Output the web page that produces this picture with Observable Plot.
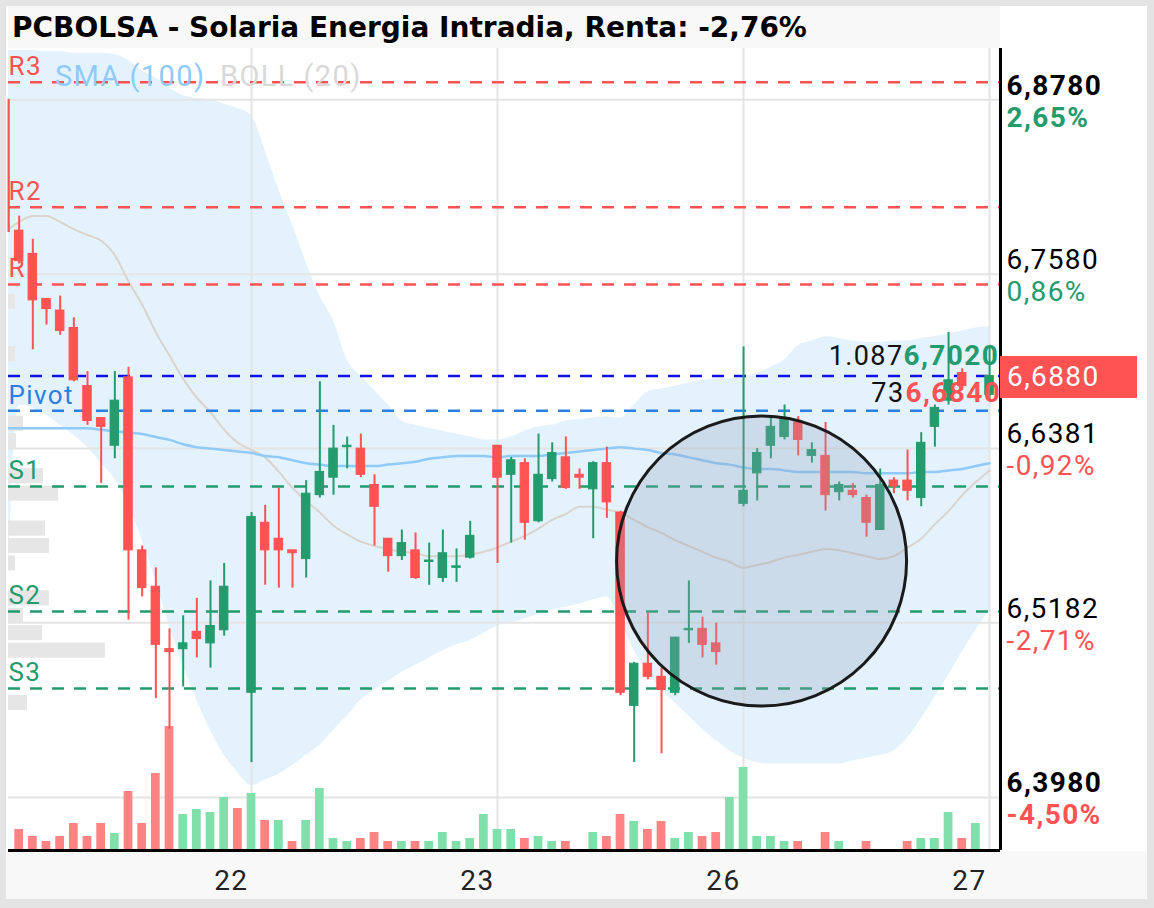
<!DOCTYPE html>
<html><head><meta charset="utf-8">
<script src="https://cdn.jsdelivr.net/npm/d3@7"></script>
<script src="https://cdn.jsdelivr.net/npm/@observablehq/plot@0.6"></script>
<style>
body{margin:0;background:#fff;font-family:Roboto,sans-serif;}
#wrap{position:relative;width:1154px;height:908px;background:#e4e4e4;overflow:hidden;}
#panel{position:absolute;left:6px;top:6px;width:1141px;height:893px;background:#fff;}
#titlebar{position:absolute;left:8px;top:6px;width:992px;height:42px;background:#f8f8f8;}
#bottombar{position:absolute;left:6px;top:851px;width:1141px;height:48px;background:#f8f8f8;}
#title{position:absolute;left:12px;top:11px;font:bold 28px "DejaVu Sans";color:#000;white-space:nowrap;}
.legend{position:absolute;top:59px;font:29px Roboto;letter-spacing:1.4px;white-space:nowrap;}
.layer{position:absolute;left:0;top:0;}
#pricebox{position:absolute;left:1000px;width:137px;height:42px;background:#ff5252;color:#fff;font:28px Roboto;letter-spacing:1.4px;line-height:42px;padding-left:7px;box-sizing:border-box;}
</style></head>
<body>
<div id="wrap">
  <div id="panel"></div>
  <div id="titlebar"></div>
  <div id="bottombar"></div>
  <div id="title">PCBOLSA - Solaria Energia Intradia, Renta: -2,76%</div>
</div>
<script>
// ---------- DATA ----------
// 30-min slots: day 21 = 0..17, 22 = 18..35, 23 = 36..53, 26 = 54..71, 27 = 72
const open = [6.878,6.788,6.772,6.741,6.733,6.721,6.681,6.659,6.640,6.687,6.568,6.543,6.500,6.500,6.512,6.504,6.513,null,
6.470,6.587,6.576,6.568,6.562,6.606,6.618,6.639,6.638,6.613,6.576,6.564,6.568,6.560,6.549,6.556,6.563,null,
6.640,6.620,6.628,6.588,6.617,6.632,6.620,6.610,6.628,6.594,6.461,6.490,6.481,6.470,6.513,6.514,6.504,null,
6.600,6.621,6.640,6.646,6.656,6.633,6.633,6.608,6.609,6.604,6.582,6.616,6.616,6.604,6.653,6.671,6.690,null,6.675];
const high = [6.878,6.798,6.782,6.741,6.743,6.728,6.691,6.659,6.691,6.694,6.571,6.556,6.514,6.523,6.535,6.547,6.559,null,
6.594,6.599,6.611,6.568,6.616,6.684,6.654,6.646,6.648,6.620,6.576,6.582,6.580,6.573,6.582,6.569,6.588,null,
6.640,6.632,6.631,6.648,6.642,6.646,6.624,6.629,6.639,6.595,6.491,6.525,6.487,6.508,6.547,6.522,6.518,null,
6.708,6.638,6.659,6.668,6.660,6.642,6.656,6.615,6.614,6.606,6.624,6.618,6.637,6.649,6.668,6.718,6.693,null,6.709];
const low = [6.781,6.765,6.706,6.723,6.716,6.684,6.654,6.614,6.631,6.520,6.536,6.466,6.445,6.474,6.494,6.487,6.509,null,
6.422,6.544,6.542,6.542,6.549,6.604,6.606,6.624,6.618,6.571,6.553,6.561,6.548,6.544,6.546,6.546,6.562,null,
6.559,6.573,6.575,6.587,6.615,6.610,6.610,6.576,6.590,6.468,6.422,6.479,6.428,6.468,6.504,6.494,6.489,null,
6.598,6.602,6.631,6.644,6.633,6.628,6.595,6.602,6.604,6.577,6.582,6.607,6.602,6.598,6.639,6.668,6.678,null,6.671];
const close = [6.787,6.767,6.740,6.734,6.719,6.685,6.657,6.653,6.671,6.568,6.542,6.503,6.498,6.504,6.507,6.516,6.543,null,
6.591,6.568,6.568,6.566,6.607,6.622,6.638,6.640,6.620,6.598,6.564,6.573,6.549,6.561,6.566,6.557,6.578,null,
6.618,6.630,6.587,6.620,6.635,6.611,6.618,6.628,6.601,6.470,6.490,6.481,6.472,6.508,6.514,6.503,6.498,null,
6.609,6.635,6.653,6.659,6.644,6.637,6.606,6.613,6.606,6.587,6.613,6.612,6.609,6.642,6.666,6.685,6.681,null,6.688];
// volume (thousand shares) and its up/down colour (g/r)
const volume = [0,21,14,9,14,27,14,27,17,59,27,77,124,36,41,38,53,42,
57,30,30,9,30,62,12,9,12,18,9,9,9,9,18,9,12,36,
21,21,12,14,9,9,0,18,14,36,29,21,29,12,18,14,18,53,
83,14,14,9,9,0,18,9,0,9,0,0,9,12,12,38,12,27,0];
const volumeDir = ("rrrrrrrrgrrrrggggr" + "grgrggggrrrgrggggg" + "ggrggrggrrgrrggrrg" + "ggggrgrgrrgrrgggrgg").split("");
// Bollinger (20) bands and middle, SMA (100)
const bollUpper = [6.912,6.912,6.912,6.911,6.911,6.910,6.910,6.910,6.909,6.905,6.898,6.893,6.886,6.881,6.879,6.878,6.875,6.872,
6.867,6.843,6.816,6.792,6.766,6.743,6.726,6.699,6.688,6.678,6.668,6.657,6.654,6.652,6.650,6.648,6.646,6.644,
6.644,6.646,6.650,6.653,6.654,6.657,6.658,6.659,6.660,6.659,6.668,6.677,6.679,6.681,6.683,6.685,6.686,6.686,
6.687,6.690,6.694,6.699,6.709,6.712,6.715,6.714,6.712,6.711,6.711,6.712,6.712,6.714,6.715,6.717,6.719,6.721,6.722];
const bollLower = [6.506,6.668,6.666,6.661,6.654,6.647,6.639,6.628,6.617,6.599,6.575,6.547,6.516,6.489,6.465,6.444,6.427,6.415,
6.406,6.410,6.414,6.420,6.427,6.434,6.444,6.454,6.465,6.472,6.478,6.484,6.489,6.494,6.499,6.503,6.506,6.511,
6.516,6.518,6.521,6.524,6.527,6.529,6.531,6.534,6.536,6.520,6.499,6.484,6.472,6.463,6.454,6.445,6.437,6.430,
6.425,6.422,6.421,6.421,6.421,6.421,6.421,6.421,6.423,6.425,6.427,6.430,6.439,6.452,6.467,6.482,6.498,6.513,6.527];
const bollMid = [6.787,6.794,6.798,6.798,6.794,6.789,6.785,6.781,6.771,6.753,6.737,6.718,6.702,6.686,6.673,6.663,6.651,6.642,
6.637,6.632,6.622,6.611,6.602,6.594,6.585,6.579,6.574,6.571,6.569,6.567,6.566,6.564,6.564,6.564,6.565,6.567,
6.570,6.574,6.578,6.583,6.589,6.593,6.598,6.598,6.596,6.594,6.589,6.584,6.580,6.575,6.571,6.567,6.563,6.560,
6.556,6.558,6.560,6.563,6.565,6.567,6.569,6.568,6.566,6.564,6.562,6.564,6.570,6.576,6.586,6.595,6.606,6.615,6.623];
const sma100 = [6.652,6.652,6.652,6.652,6.652,6.652,6.652,6.651,6.650,6.649,6.648,6.646,6.644,6.641,6.639,6.638,6.637,6.636,
6.635,6.633,6.632,6.630,6.628,6.627,6.626,6.626,6.626,6.626,6.627,6.628,6.629,6.631,6.632,6.633,6.633,6.633,
6.632,6.633,6.633,6.633,6.634,6.635,6.636,6.637,6.638,6.639,6.638,6.637,6.635,6.634,6.632,6.630,6.628,6.627,
6.625,6.624,6.624,6.623,6.622,6.622,6.622,6.622,6.622,6.621,6.621,6.621,6.621,6.622,6.622,6.623,6.624,6.626,6.628];
// volume-by-price profile
const profilePrice = [6.463,6.499,6.511,6.523,6.535,6.559,6.571,6.583,6.607,6.619,6.643,6.655,6.703,6.739];
const profileVol   = [19,97,34,15,41,7,41,37,50,35,8,15,7,7];
// pivot levels
const pivotNames  = ["R3","R2","R1","Pivot","S1","S2","S3"];
const pivotPrices = [6.890,6.804,6.751,6.664,6.612,6.526,6.473];
// right axis (first and last are the day's range, shown bold)
const axisPrices = [6.878,6.758,6.6381,6.5182,6.398];
const axisLabels = ["6,8780","6,7580","6,6381","6,5182","6,3980"];
const axisPct    = ["2,65%","0,86%","-0,92%","-2,71%","-4,50%"];
// days
const dayStartSlot = [18,36,54,72];
const dayLabels = ["22","23","26","27"];
const lastClose = 6.688, lastLabel = "6,6880";
const bookQty = ["1.087","73"], bookPrice = ["6,7020","6,6840"];
const circleCenter = {i:55.32, price:6.5607};

// ---------- BUILD ----------
const GREEN="#239b6c", RED="#ff5252", BLUE="#2a7fe0";
const slots = d3.range(open.length);
const rows = slots.map(k=>({i:k, open:open[k], high:high[k], low:low[k], close:close[k],
  vol:volume[k], dir:volumeDir[k], upper:bollUpper[k], lower:bollLower[k], mid:bollMid[k], sma:sma100[k]}));
const candles = rows.filter(d=>d.open!=null);
const candleColor = d => d.close >= d.open ? GREEN : RED;
const pivots = pivotNames.map((n,k)=>({name:n, price:pivotPrices[k], color: n[0]==="R"?RED:n[0]==="S"?GREEN:BLUE}));
const axisRows = axisPrices.map((p,k)=>({price:p, label:axisLabels[k], pct:axisPct[k], bold:(k===0||k===axisPrices.length-1), up: axisPct[k][0]!=="-"}));
const boldRows = axisRows.filter(d=>d.bold), normRows = axisRows.filter(d=>!d.bold);
const profile = profilePrice.map((p,k)=>({price:p, vol:profileVol[k]}));
const days = dayStartSlot.map((s,k)=>({i:s, label:dayLabels[k]}));

const xDomain=[0.22,72.8], yDomain=[6.3615,6.9133];
const common = {width:1154, height:908, marginLeft:8, marginRight:154, marginTop:48, marginBottom:58,
  style:{background:"transparent", overflow:"visible", fontFamily:"Roboto", letterSpacing:"1.4px"}, color:{type:"identity"}};
const wrap = document.getElementById("wrap");
function add(p){ p.classList.add("layer"); p.style.position="absolute"; p.style.left="0"; p.style.top="0"; wrap.appendChild(p); return p; }
function axisText(data, bold){
  return [
    Plot.text(data, {y:"price", text:"label", frameAnchor:"right", dx:6, dy:-5, textAnchor:"start", lineAnchor:"bottom", fontSize:28, fill:"#000", fontWeight:bold?"bold":"normal"}),
    Plot.text(data, {y:"price", text:"pct", frameAnchor:"right", dx:6, dy:7, textAnchor:"start", lineAnchor:"top", fontSize:28, fill:d=>d.up?GREEN:RED, fontWeight:bold?"bold":"normal"})
  ];
}

// layer A : band + grid
add(Plot.plot({...common, x:{domain:xDomain, axis:null}, y:{domain:yDomain, axis:null}, marks:[
  Plot.areaY(rows, {x:"i", y1:"lower", y2:"upper", fill:"#e3f2fd", curve:"monotone-x", clip:true}),
  Plot.ruleY(axisPrices, {stroke:"#e4e4e4", strokeWidth:2}),
  Plot.ruleX(dayStartSlot, {stroke:"#e4e4e4", strokeWidth:2})
]}));
// layer B : volume profile
add(Plot.plot({...common, x:{domain:[0,992], axis:null}, y:{domain:yDomain, axis:null}, marks:[
  Plot.rect(profile, {x1:d=>0, x2:"vol", y1:d=>d.price-0.0052, y2:d=>d.price+0.0052, fill:"#e6e6e6"})
]}));
// layer C : volume bars
add(Plot.plot({...common, x:{domain:xDomain, axis:null}, y:{domain:[0,802], axis:null}, marks:[
  Plot.rect(rows.filter(d=>d.vol>0), {x1:d=>d.i-0.32, x2:d=>d.i+0.32, y1:d=>0, y2:"vol", fill:d=>d.dir==="g"?"#80dfab":"#ff8383"})
]}));
// layer D : main
const main = add(Plot.plot({...common, x:{domain:xDomain, axis:null}, y:{domain:yDomain, axis:null}, marks:[
  Plot.line(rows, {x:"i", y:"mid", stroke:"#dcd3cc", strokeWidth:2, curve:"monotone-x", clip:true}),
  Plot.line(rows, {x:"i", y:"sma", stroke:"#90caf9", strokeWidth:2.5, curve:"monotone-x", clip:true}),
  Plot.ruleY(pivots, {y:"price", stroke:"color", strokeWidth:2.5, strokeDasharray:"12,10"}),
  Plot.ruleY([lastClose], {stroke:"#1010e6", strokeWidth:2.5, strokeDasharray:"12,10"}),
  Plot.text(pivots, {y:"price", text:"name", fill:"color", frameAnchor:"left", textAnchor:"start", lineAnchor:"bottom", dy:-7, fontSize:26}),
  Plot.ruleX(candles, {x:"i", y1:"low", y2:"high", stroke:candleColor, strokeWidth:2, clip:true}),
  Plot.rect(candles, {x1:d=>Math.max(d.i-0.31, xDomain[0]), x2:d=>d.i+0.31, y1:"open", y2:"close", fill:candleColor, stroke:candleColor, strokeWidth:1}),
  Plot.dot([circleCenter], {x:"i", y:"price", r:145, fill:"#8fa3b6", fillOpacity:0.28, stroke:"#1a1a1a", strokeWidth:3}),
  // order book
  Plot.text([lastClose], {y:d=>d, text:[bookQty[0]], frameAnchor:"right", dx:-97, dy:-20, textAnchor:"end", lineAnchor:"middle", fontSize:27, fill:"#111"}),
  Plot.text([lastClose], {y:d=>d, text:[bookPrice[0]], frameAnchor:"right", dx:-97, dy:-20, textAnchor:"start", lineAnchor:"middle", fontSize:28, fontWeight:"bold", fill:GREEN}),
  Plot.text([lastClose], {y:d=>d, text:[bookQty[1]], frameAnchor:"right", dx:-96, dy:17, textAnchor:"end", lineAnchor:"middle", fontSize:27, fill:"#111"}),
  Plot.text([lastClose], {y:d=>d, text:[bookPrice[1]], frameAnchor:"right", dx:-95, dy:17, textAnchor:"start", lineAnchor:"middle", fontSize:28, fontWeight:"bold", fill:RED}),
  // right axis labels
  ...axisText(normRows, false),
  ...axisText(boldRows, true),
  // x labels
  Plot.text(days, {x:"i", text:"label", frameAnchor:"bottom", textAnchor:"end", dx:-3, dy:31, lineAnchor:"middle", fontSize:28, fill:"#222"}),
  // axis lines
  Plot.ruleX([xDomain[1]], {stroke:"#000", strokeWidth:3}),
  Plot.ruleY([yDomain[0]], {stroke:"#000", strokeWidth:3})
]}));
// price box
const yS = main.scale("y");
const box = document.createElement("div");
box.id="pricebox"; box.textContent=lastLabel; box.style.top=(yS.apply(lastClose)-19)+"px";
wrap.appendChild(box);
// legend
const l1=document.createElement("div"); l1.className="legend"; l1.style.left="55px"; l1.style.color="#90caf9"; l1.textContent="SMA (100)"; wrap.appendChild(l1);
const l2=document.createElement("div"); l2.className="legend"; l2.style.left="220px"; l2.style.color="#d9d9d9"; l2.textContent="BOLL (20)"; wrap.appendChild(l2);
</script>
</body></html>
